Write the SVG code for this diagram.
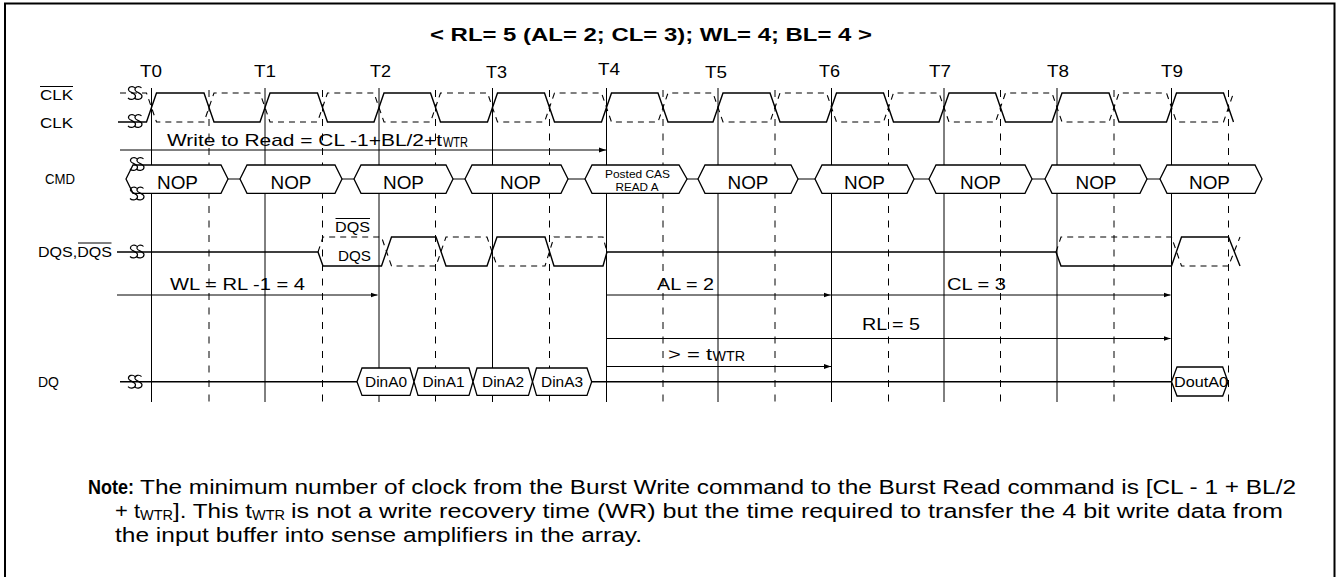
<svg xmlns="http://www.w3.org/2000/svg" xmlns:xlink="http://www.w3.org/1999/xlink" width="1341" height="577" viewBox="0 0 1341 577">
<style>
text{font-family:"Liberation Sans",Arial,sans-serif;fill:#000}
.w{fill:none;stroke:#000;stroke-width:1.4;stroke-linejoin:miter}
.wd{fill:none;stroke:#000;stroke-width:1.1;stroke-dasharray:6 5}
.g{stroke:#000;stroke-width:1;fill:none}
.gd{stroke:#000;stroke-width:1;stroke-dasharray:7 7.5;fill:none}
.a{stroke:#000;stroke-width:1;fill:none}
.box{fill:#fff;stroke:#000;stroke-width:1.3}
.brk{fill:none;stroke:#000;stroke-width:1.2}
</style>
<defs>
<marker id="ah" markerWidth="8" markerHeight="6" refX="7" refY="3" orient="auto" markerUnits="userSpaceOnUse">
<path d="M0,0.5 L7,3 L0,5.5 Z" fill="#000"/>
</marker>
<g id="brk">
<path class="brk" d="M0,-5 C-2,-7.5 -7,-6.5 -6.5,-3 C-6,-0.5 0.5,0 0.5,3 C0.5,6.5 -4.5,7.5 -7,5"/>
<path class="brk" d="M6.5,-5 C4.5,-7.5 -0.5,-6.5 0,-3 C0.5,-0.5 7,0 7,3 C7,6.5 2,7.5 -0.5,5"/>
</g>
</defs>
<rect x="5" y="3.5" width="1329.5" height="620" fill="none" stroke="#000" stroke-width="2"/>
<g id="title">
<text x="430" y="41" font-size="19" font-weight="bold" textLength="442" lengthAdjust="spacingAndGlyphs">&lt; RL= 5 (AL= 2; CL= 3); WL= 4; BL= 4 &gt;</text>
</g>
<g id="clock-labels">
<text x="140" y="77" font-size="16" textLength="22" lengthAdjust="spacingAndGlyphs">T0</text>
<text x="254" y="77" font-size="16" textLength="22" lengthAdjust="spacingAndGlyphs">T1</text>
<text x="370" y="77" font-size="16" textLength="21" lengthAdjust="spacingAndGlyphs">T2</text>
<text x="486" y="78" font-size="16" textLength="21" lengthAdjust="spacingAndGlyphs">T3</text>
<text x="598" y="75" font-size="16" textLength="22" lengthAdjust="spacingAndGlyphs">T4</text>
<text x="705" y="78" font-size="16" textLength="22" lengthAdjust="spacingAndGlyphs">T5</text>
<text x="819" y="77" font-size="16" textLength="21" lengthAdjust="spacingAndGlyphs">T6</text>
<text x="929" y="77" font-size="16" textLength="22" lengthAdjust="spacingAndGlyphs">T7</text>
<text x="1047" y="77" font-size="16" textLength="22" lengthAdjust="spacingAndGlyphs">T8</text>
<text x="1161" y="77" font-size="16" textLength="22" lengthAdjust="spacingAndGlyphs">T9</text>
</g>
<g id="signal-labels">
<text x="40" y="99.5" font-size="14" textLength="33" lengthAdjust="spacingAndGlyphs">CLK</text>
<line x1="40" y1="86.5" x2="73" y2="86.5" stroke="#000" stroke-width="1"/>
<text x="40" y="128" font-size="14" textLength="33" lengthAdjust="spacingAndGlyphs">CLK</text>
<text x="45" y="183.5" font-size="14" textLength="30" lengthAdjust="spacingAndGlyphs">CMD</text>
<text x="38" y="257" font-size="14" textLength="74" lengthAdjust="spacingAndGlyphs">DQS,DQS</text>
<line x1="78" y1="243" x2="111.5" y2="243" stroke="#000" stroke-width="1"/>
<text x="38" y="386.5" font-size="14" textLength="21" lengthAdjust="spacingAndGlyphs">DQ</text>
</g>
<g id="grid">
<path class="g" d="M151.5,88V402 M265,88V402 M379,88V402 M492.5,88V402 M606.5,88V402 M718,88V402 M831.5,88V402 M944,88V402 M1057,88V402 M1171.5,88V402"/>
<path class="gd" d="M209,90V402 M322.5,90V402 M435.5,90V402 M549.5,90V402 M663,90V402 M775,90V402 M888.5,90V402 M1000.5,90V402 M1114,90V402 M1228.5,90V402"/>
</g>
<g id="clk">
<path class="wd" d="M120,93 H146.5 L156.5,122 H204 L214,93 H260 L270,122 H317.5 L327.5,93 H374 L384,122 H430.5 L440.5,93 H487.5 L497.5,122 H544.5 L554.5,93 H601.5 L611.5,122 H658 L668,93 H713 L723,122 H770 L780,93 H826.5 L836.5,122 H883.5 L893.5,93 H939 L949,122 H995.5 L1005.5,93 H1052 L1062,122 H1109 L1119,93 H1166.5 L1176.5,122 H1223.5 L1233.5,93"/>
<path class="w" d="M118,122 H146.5 L156.5,93 H204 L214,122 H260 L270,93 H317.5 L327.5,122 H374 L384,93 H430.5 L440.5,122 H487.5 L497.5,93 H544.5 L554.5,122 H601.5 L611.5,93 H658 L668,122 H713 L723,93 H770 L780,122 H826.5 L836.5,93 H883.5 L893.5,122 H939 L949,93 H995.5 L1005.5,122 H1052 L1062,93 H1109 L1119,122 H1166.5 L1176.5,93 H1223.5 L1233.5,122"/>
<use xlink:href="#brk" x="135" y="93"/>
<use xlink:href="#brk" x="135" y="121"/>
</g>
<g id="cmd">
<path class="a" d="M228,179H240 M342,179H354 M453,179H465 M568,179H585 M687,179H698 M798,179H815 M914,179H929 M1032,179H1045 M1147,179H1160"/>
<g id="cmd-nop0"><path class="box" d="M126,179 L133,165 H221 L228,179 L221,193.3 H133 Z"/><text x="157" y="188.5" font-size="18" textLength="41" lengthAdjust="spacingAndGlyphs">NOP</text></g>
<g id="cmd-nop1"><path class="box" d="M240,179 L247,165 H335 L342,179 L335,193.3 H247 Z"/><text x="270.5" y="188.5" font-size="18" textLength="41" lengthAdjust="spacingAndGlyphs">NOP</text></g>
<g id="cmd-nop2"><path class="box" d="M354,179 L361,165 H446 L453,179 L446,193.3 H361 Z"/><text x="383" y="188.5" font-size="18" textLength="41" lengthAdjust="spacingAndGlyphs">NOP</text></g>
<g id="cmd-nop3"><path class="box" d="M465,179 L472,165 H561 L568,179 L561,193.3 H472 Z"/><text x="500" y="188.5" font-size="18" textLength="41" lengthAdjust="spacingAndGlyphs">NOP</text></g>
<g id="cmd-read"><path class="box" d="M585,179 L592,165 H679 L687,179 L679,193.3 H592 Z"/><text x="605" y="178" font-size="11" textLength="65" lengthAdjust="spacingAndGlyphs">Posted CAS</text><text x="615.5" y="190.5" font-size="11" textLength="43" lengthAdjust="spacingAndGlyphs">READ A</text></g>
<g id="cmd-nop5"><path class="box" d="M698,179 L705,165 H791 L798,179 L791,193.3 H705 Z"/><text x="727.5" y="188.5" font-size="18" textLength="41" lengthAdjust="spacingAndGlyphs">NOP</text></g>
<g id="cmd-nop6"><path class="box" d="M815,179 L822,165 H907 L914,179 L907,193.3 H822 Z"/><text x="844" y="188.5" font-size="18" textLength="41" lengthAdjust="spacingAndGlyphs">NOP</text></g>
<g id="cmd-nop7"><path class="box" d="M929,179 L936,165 H1025 L1032,179 L1025,193.3 H936 Z"/><text x="960" y="188.5" font-size="18" textLength="41" lengthAdjust="spacingAndGlyphs">NOP</text></g>
<g id="cmd-nop8"><path class="box" d="M1045,179 L1052,165 H1140 L1147,179 L1140,193.3 H1052 Z"/><text x="1075.5" y="188.5" font-size="18" textLength="41" lengthAdjust="spacingAndGlyphs">NOP</text></g>
<g id="cmd-nop9"><path class="box" d="M1160,179 L1167,165 H1255 L1262,179 L1255,193.3 H1167 Z"/><text x="1189" y="188.5" font-size="18" textLength="41" lengthAdjust="spacingAndGlyphs">NOP</text></g>
<use xlink:href="#brk" x="137" y="164"/>
<use xlink:href="#brk" x="137" y="193.5"/>
</g>
<g id="dqs">
<path class="wd" d="M318,252 L323,237 H381.5 L391.5,266 H436 L446,237 H487 L497,266 H545 L554,237 H603 L607,252 M1056,252 L1061,237 H1171.5 L1181.5,266 H1228.5 L1240,237"/>
<path class="w" d="M117,252 H318 L323,266 H381.5 L391.5,237 H436 L446,266 H487 L497,237 H545 L554,266 H603 L607,252 H1056 L1061,266 H1171.5 L1181.5,237 H1228.5 L1240,266"/>
<use xlink:href="#brk" x="137" y="251.5"/>
<text x="335" y="231.5" font-size="14" textLength="35" lengthAdjust="spacingAndGlyphs">DQS</text>
<line x1="335.5" y1="218.5" x2="370" y2="218.5" stroke="#000" stroke-width="1"/>
<text x="338" y="261" font-size="14" textLength="33" lengthAdjust="spacingAndGlyphs">DQS</text>
</g>
<g id="dq">
<path class="w" d="M120,381.7 H357 M591.7,381.7 H1171.5"/>
<use xlink:href="#brk" x="135" y="381.7"/>
<g id="dq-a0"><path class="box" d="M357,381.7 L362,368 H410 L414,381.7 L410,395.4 H362 Z"/><text x="365" y="386.5" font-size="14" textLength="42" lengthAdjust="spacingAndGlyphs">DinA0</text></g>
<g id="dq-a1"><path class="box" d="M414,381.7 L418,368 H469 L473,381.7 L469,395.4 H418 Z"/><text x="422.5" y="386.5" font-size="14" textLength="42" lengthAdjust="spacingAndGlyphs">DinA1</text></g>
<g id="dq-a2"><path class="box" d="M473,381.7 L477,368 H528.5 L532.5,381.7 L528.5,395.4 H477 Z"/><text x="482" y="386.5" font-size="14" textLength="42" lengthAdjust="spacingAndGlyphs">DinA2</text></g>
<g id="dq-a3"><path class="box" d="M532.5,381.7 L536.5,368 H587 L591.7,381.7 L587,395.4 H536.5 Z"/><text x="541" y="386.5" font-size="14" textLength="42" lengthAdjust="spacingAndGlyphs">DinA3</text></g>
<g id="dq-dout"><path class="box" d="M1171.5,381.7 L1177,367 H1222.7 L1228,381.7 L1222.7,396 H1177 Z"/><text x="1174" y="387" font-size="14" textLength="54" lengthAdjust="spacingAndGlyphs">DoutA0</text></g>
</g>
<g id="connectors">
<line class="a" x1="120" y1="150" x2="606" y2="150" marker-end="url(#ah)"/>
<line class="a" x1="117" y1="295" x2="377.5" y2="295" marker-end="url(#ah)"/>
<line class="a" x1="606.5" y1="295" x2="830.5" y2="295" marker-end="url(#ah)"/>
<line class="a" x1="830.5" y1="295" x2="1170.5" y2="295" marker-end="url(#ah)"/>
<line class="a" x1="606.5" y1="338.5" x2="1170.5" y2="338.5" marker-end="url(#ah)"/>
<line class="a" x1="606.5" y1="366.5" x2="831" y2="366.5" marker-end="url(#ah)"/>
</g>
<g id="timing-labels">
<text x="167" y="146" font-size="17" textLength="275" lengthAdjust="spacingAndGlyphs">Write to Read = CL -1+BL/2+t</text>
<text x="443" y="147" font-size="14" textLength="25" lengthAdjust="spacingAndGlyphs">WTR</text>
<text x="170" y="290" font-size="17" textLength="135" lengthAdjust="spacingAndGlyphs">WL = RL -1 = 4</text>
<text x="657" y="290" font-size="17" textLength="57" lengthAdjust="spacingAndGlyphs">AL = 2</text>
<text x="947" y="290" font-size="17" textLength="59" lengthAdjust="spacingAndGlyphs">CL = 3</text>
<text x="862" y="330" font-size="17" textLength="58" lengthAdjust="spacingAndGlyphs">RL = 5</text>
<text x="668" y="360" font-size="17" textLength="44" lengthAdjust="spacingAndGlyphs">&gt; = t</text>
<text x="712.5" y="361" font-size="14" textLength="32.5" lengthAdjust="spacingAndGlyphs">WTR</text>
</g>
<g id="note">
<text x="88" y="494" font-size="20" font-weight="bold" textLength="46" lengthAdjust="spacingAndGlyphs">Note:</text>
<text x="140" y="494" font-size="20" textLength="1156" lengthAdjust="spacingAndGlyphs">The minimum number of clock from the Burst Write command to the Burst Read command is [CL - 1 + BL/2</text>
<text x="115" y="518" font-size="20" textLength="25" lengthAdjust="spacingAndGlyphs">+ t</text>
<text x="140" y="520" font-size="14" textLength="33" lengthAdjust="spacingAndGlyphs">WTR</text>
<text x="173" y="518" font-size="20" textLength="79" lengthAdjust="spacingAndGlyphs">]. This t</text>
<text x="252" y="520" font-size="14" textLength="33" lengthAdjust="spacingAndGlyphs">WTR</text>
<text x="291" y="518" font-size="20" textLength="992" lengthAdjust="spacingAndGlyphs">is not a write recovery time (WR) but the time required to transfer the 4 bit write data from</text>
<text x="115" y="542" font-size="20" textLength="527" lengthAdjust="spacingAndGlyphs">the input buffer into sense amplifiers in the array.</text>
</g>
</svg>
